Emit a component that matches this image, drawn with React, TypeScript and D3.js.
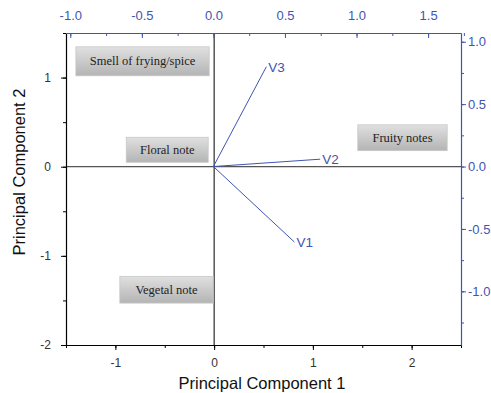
import { useEffect, useRef } from 'react'
import * as d3 from 'd3'

// loadings (drawn on top / right axes)
const VAR_NAMES = ['V1', 'V2', 'V3']
const LOAD_PC1 = [0.566, 0.746, 0.37]
const LOAD_PC2 = [-0.605, 0.059, 0.8]

// sensory group boxes (bottom / left axes): [x0, x1, y0, y1]
const GROUP_LABELS = ['Smell of frying/spice', 'Floral note', 'Fruity notes', 'Vegetal note']
const GROUP_X0 = [-1.4, -0.89, 1.455, -0.955]
const GROUP_X1 = [-0.05, -0.06, 2.36, -0.01]
const GROUP_Y0 = [1.345, 0.33, 0.47, -1.23]
const GROUP_Y1 = [1.02, 0.05, 0.18, -1.53]

const BOTTOM_TICKS = [-1, 0, 1, 2]
const LEFT_TICKS = [-2, -1, 0, 1]
const TOP_TICKS = [-1.0, -0.5, 0.0, 0.5, 1.0, 1.5]
const RIGHT_TICKS = [-1.0, -0.5, 0.0, 0.5, 1.0]

const W = 491, H = 393
const BLUE = '#3f55b3'
const SANS = 'Arial, "Liberation Sans", sans-serif'

const fmtInt = (v: any) => String(v)
const fmt1 = (v: any) => (+v).toFixed(1)

export default function App() {
  const svgRef = useRef<SVGSVGElement>(null)

  useEffect(() => {
    const svg = d3.select(svgRef.current)
    svg.selectAll('*').remove()
    const m = { top: 33, right: 30, bottom: 48, left: 66 }
    const iw = W - m.left - m.right
    const ih = H - m.top - m.bottom
    const g = svg.append('g').attr('transform', `translate(${m.left},${m.top})`)

    const x = d3.scaleLinear().domain([-1.5, 2.5]).range([0, iw])
    const y = d3.scaleLinear().domain([-2, 1.5]).range([ih, 0])
    const x2 = d3.scaleLinear().domain([-1.03, 1.73]).range([0, iw])
    const y2 = d3.scaleLinear().domain([-1.43, 1.07]).range([ih, 0])

    const defs = svg.append('defs')
    const grad = defs.append('linearGradient').attr('id', 'boxg').attr('x1', 0).attr('y1', 0).attr('x2', 0).attr('y2', 1)
    grad.append('stop').attr('offset', '0%').attr('stop-color', '#e0e0e0')
    grad.append('stop').attr('offset', '100%').attr('stop-color', '#b4b4b4')

    // zero lines
    g.append('line').attr('x1', 0).attr('x2', iw).attr('y1', y(0)).attr('y2', y(0))
      .attr('stroke', '#555').attr('stroke-width', 1.2)
    g.append('line').attr('x1', x(0)).attr('x2', x(0)).attr('y1', 0).attr('y2', ih)
      .attr('stroke', '#000').attr('stroke-width', 1)

    // group boxes
    GROUP_LABELS.forEach((lab, i) => {
      const bx = x(GROUP_X0[i]), bw = x(GROUP_X1[i]) - bx
      const by = y(GROUP_Y0[i]), bh = y(GROUP_Y1[i]) - by
      g.append('rect').attr('x', bx).attr('y', by).attr('width', bw).attr('height', bh)
        .attr('fill', 'url(#boxg)').attr('stroke', '#c8c8c8').attr('stroke-width', 0.8)
      g.append('text').attr('x', bx + bw / 2).attr('y', by + bh / 2 + 4)
        .attr('text-anchor', 'middle').attr('font-family', '"Liberation Serif", serif')
        .attr('font-size', 12.5).attr('fill', '#222').text(lab)
    })

    // loading vectors
    VAR_NAMES.forEach((name, i) => {
      g.append('line').attr('x1', x2(0)).attr('y1', y2(0))
        .attr('x2', x2(LOAD_PC1[i])).attr('y2', y2(LOAD_PC2[i]))
        .attr('stroke', BLUE).attr('stroke-width', 1)
      g.append('text').attr('x', x2(LOAD_PC1[i]) + 2).attr('y', y2(LOAD_PC2[i]) + 5)
        .attr('font-family', SANS).attr('font-size', 13.5)
        .attr('fill', BLUE).text(name)
    })

    const style = (sel: any, color: string, fs: number) => {
      sel.select('.domain').attr('stroke', color).attr('stroke-width', 1.2)
      sel.selectAll('.tick line').attr('stroke', color)
      sel.selectAll('.tick text').attr('fill', color).attr('font-family', SANS).attr('font-size', fs)
    }

    // bottom axis
    g.append('g').attr('transform', `translate(0,${ih})`)
      .call(d3.axisBottom(x).tickValues(d3.range(-1.5, 2.51, 0.5)).tickSize(3).tickFormat(() => '').tickSizeOuter(0))
      .call(a => style(a, '#000', 12))
    g.append('g').attr('transform', `translate(0,${ih})`)
      .call(d3.axisBottom(x).tickValues(BOTTOM_TICKS).tickSize(5).tickPadding(8).tickFormat(fmtInt).tickSizeOuter(0))
      .call(a => { style(a, '#000', 12); a.selectAll('.tick text').attr('fill', '#333'); a.select('.domain').remove() })

    // left axis
    g.append('g')
      .call(d3.axisLeft(y).tickValues(d3.range(-2, 1.51, 0.5)).tickSize(3).tickFormat(() => '').tickSizeOuter(0))
      .call(a => style(a, '#000', 12))
    g.append('g')
      .call(d3.axisLeft(y).tickValues(LEFT_TICKS).tickSize(5).tickPadding(10).tickFormat(fmtInt).tickSizeOuter(0))
      .call(a => { style(a, '#000', 12); a.selectAll('.tick text').attr('fill', '#333'); a.select('.domain').remove() })

    // top axis (ticks inward)
    g.append('g')
      .call(d3.axisTop(x2).tickValues(d3.range(-1, 1.76, 0.25)).tickSize(-3).tickFormat(() => '').tickSizeOuter(0))
      .call(a => style(a, BLUE, 13))
    g.append('g')
      .call(d3.axisTop(x2).tickValues(TOP_TICKS).tickSize(-5).tickPadding(13).tickFormat(fmt1).tickSizeOuter(0))
      .call(a => { style(a, BLUE, 13); a.select('.domain').remove() })

    // right axis
    g.append('g').attr('transform', `translate(${iw},0)`)
      .call(d3.axisRight(y2).tickValues(d3.range(-1.25, 1.01, 0.25)).tickSize(3).tickFormat(() => '').tickSizeOuter(0))
      .call(a => style(a, BLUE, 13))
    g.append('g').attr('transform', `translate(${iw},0)`)
      .call(d3.axisRight(y2).tickValues(RIGHT_TICKS).tickSize(5).tickPadding(2).tickFormat(fmt1).tickSizeOuter(0))
      .call(a => { style(a, BLUE, 13); a.select('.domain').remove() })

    // axis titles
    svg.append('text').attr('x', 262).attr('y', 389)
      .attr('text-anchor', 'middle').attr('font-family', SANS)
      .attr('font-size', 16.5).attr('fill', '#111').text('Principal Component 1')
    svg.append('text').attr('transform', `translate(25,172) rotate(-90)`)
      .attr('text-anchor', 'middle').attr('font-family', SANS)
      .attr('font-size', 16.5).attr('fill', '#111').text('Principal Component 2')
  }, [])

  return (
    <svg ref={svgRef} width={W} height={H}
      style={{ position: 'absolute', left: 0, top: 0, background: '#fff' }} />
  )
}
